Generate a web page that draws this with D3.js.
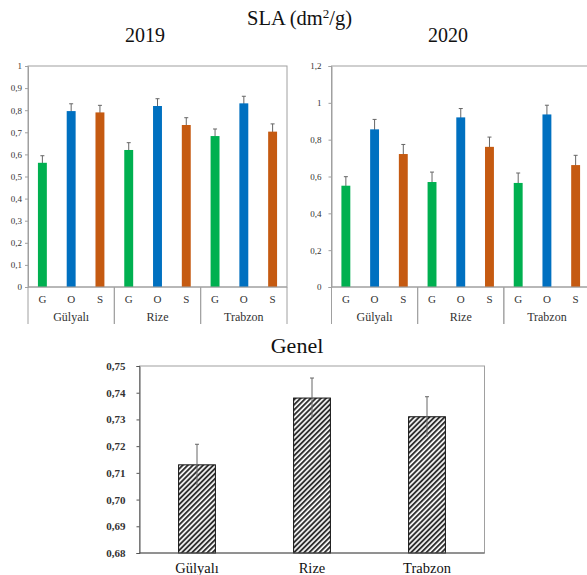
<!DOCTYPE html>
<html>
<head>
<meta charset="utf-8">
<script src="https://cdn.jsdelivr.net/npm/d3@7"></script>
<style>
  html, body { margin: 0; padding: 0; background: #fff; }
  svg { display: block; }
  svg text { font-family: "Liberation Serif", "Times New Roman", serif !important; }
</style>
</head>
<body>
<svg id="chart" width="587" height="575" font-family="Liberation Serif, serif"></svg>
<script>
// Sites and sample groups
const sites = ["Gülyalı", "Rize", "Trabzon"];
const groups = ["G", "O", "S"];
const groupColors = ["#00B050", "#0070C0", "#C55A11"];

// SLA 2019 (dm²/g), one value per site
const sla2019G = [0.562, 0.620, 0.683];
const sla2019O = [0.796, 0.819, 0.831];
const sla2019S = [0.790, 0.733, 0.703];
const err2019G = [0.032, 0.033, 0.032];
const err2019O = [0.033, 0.033, 0.032];
const err2019S = [0.032, 0.033, 0.035];

// SLA 2020 (dm²/g)
const sla2020G = [0.550, 0.570, 0.565];
const sla2020O = [0.856, 0.921, 0.937];
const sla2020S = [0.722, 0.761, 0.662];
const err2020G = [0.049, 0.054, 0.054];
const err2020O = [0.054, 0.048, 0.050];
const err2020S = [0.052, 0.053, 0.053];

// Overall mean per site
const genel = [0.713, 0.738, 0.731];
const genelErr = [0.0077, 0.0075, 0.0075];

// Tick values
const ticks2019 = [0, 0.1, 0.2, 0.3, 0.4, 0.5, 0.6, 0.7, 0.8, 0.9, 1];
const ticks2020 = [0, 0.2, 0.4, 0.6, 0.8, 1, 1.2];
const ticksGenel = [0.68, 0.69, 0.70, 0.71, 0.72, 0.73, 0.74, 0.75];

const trLocale = d3.formatLocale({ decimal: ",", thousands: ".", grouping: [3], currency: ["", ""] });
const fmtShort = trLocale.format("~g");
const fmt2 = trLocale.format(".2f");

const svg = d3.select("#chart");
const frameColor = "#a0a0a0";
const serif = "'Liberation Serif', 'Times New Roman', serif";

function buildRows(vals, errs) {
  const rows = [];
  sites.forEach((s, i) => {
    groups.forEach((g, j) => {
      rows.push({ site: s, group: g, gi: j, value: vals[j][i], err: errs[j][i] });
    });
  });
  return rows;
}

function groupedChart(opt) {
  const { left, right, top, bottom, catBottom, yMax, ticks, rows, labelGap } = opt;
  const g = svg.append("g");
  const y = d3.scaleLinear().domain([0, yMax]).range([bottom, top]);
  const x0 = d3.scaleBand().domain(sites).range([left, right]).padding(0);
  const x1 = d3.scaleBand().domain(groups).range([0, x0.bandwidth()])
    .paddingInner(0.69).paddingOuter(0.345);

  // frame
  g.append("rect")
    .attr("x", left).attr("y", top)
    .attr("width", right - left).attr("height", bottom - top)
    .attr("fill", "none").attr("stroke", frameColor).attr("stroke-width", 1);

  // y axis
  const yAxis = d3.axisLeft(y).tickValues(ticks).tickFormat(fmtShort)
    .tickSize(3).tickPadding(labelGap);
  const ya = g.append("g").attr("transform", `translate(${left},0)`).call(yAxis)
    .attr("font-family", serif);
  ya.select(".domain").attr("stroke", frameColor);
  ya.selectAll(".tick line").attr("stroke", frameColor);
  ya.selectAll(".tick text")
    .attr("fill", "#333")
    .style("font-size", "9px");

  // error bars (drawn behind bars)
  const eb = g.append("g");
  rows.forEach(d => {
    const cx = x0(d.site) + x1(d.group) + x1.bandwidth() / 2;
    eb.append("line")
      .attr("x1", cx).attr("x2", cx)
      .attr("y1", y(d.value - d.err)).attr("y2", y(d.value + d.err))
      .attr("stroke", "#666").attr("stroke-width", 1);
    eb.append("line")
      .attr("x1", cx - 2).attr("x2", cx + 2)
      .attr("y1", y(d.value + d.err)).attr("y2", y(d.value + d.err))
      .attr("stroke", "#666").attr("stroke-width", 1);
  });

  // bars
  g.append("g").selectAll("rect").data(rows).join("rect")
    .attr("x", d => x0(d.site) + x1(d.group))
    .attr("y", d => y(d.value))
    .attr("width", x1.bandwidth())
    .attr("height", d => bottom - y(d.value))
    .attr("fill", d => groupColors[d.gi]);

  // baseline redrawn over bars
  g.append("line")
    .attr("x1", left).attr("x2", right)
    .attr("y1", bottom).attr("y2", bottom)
    .attr("stroke", frameColor);

  // category separators (two-level axis)
  sites.forEach(s => {
    [x0(s), x0(s) + x0.bandwidth()].forEach(xx => {
      g.append("line")
        .attr("x1", xx).attr("x2", xx)
        .attr("y1", bottom).attr("y2", catBottom)
        .attr("stroke", frameColor);
    });
    groups.forEach(gr => {
      g.append("text")
        .attr("x", x0(s) + x1(gr) + x1.bandwidth() / 2)
        .attr("y", bottom + 15.5)
        .attr("text-anchor", "middle")
        .attr("fill", "#333")
        .style("font-size", "11px")
        .text(gr);
    });
    g.append("text")
      .attr("x", x0(s) + x0.bandwidth() / 2)
      .attr("y", bottom + 33.5)
      .attr("text-anchor", "middle")
      .attr("fill", "#333")
      .style("font-size", "12px")
      .text(s);
  });
}

// Titles
svg.append("text")
  .attr("x", 299.5).attr("y", 25)
  .attr("text-anchor", "middle")
  .style("font-size", "20.5px")
  .attr("fill", "#111")
  .html('SLA (dm<tspan dy="-7" font-size="13px">2</tspan><tspan dy="7">/g)</tspan>');

svg.append("text")
  .attr("x", 145).attr("y", 42)
  .attr("text-anchor", "middle")
  .style("font-size", "20px")
  .attr("fill", "#111")
  .text("2019");

svg.append("text")
  .attr("x", 448).attr("y", 42)
  .attr("text-anchor", "middle")
  .style("font-size", "20px")
  .attr("fill", "#111")
  .text("2020");

groupedChart({
  left: 28, right: 287, top: 66, bottom: 287, catBottom: 324,
  yMax: 1, ticks: ticks2019, labelGap: 3,
  rows: buildRows([sla2019G, sla2019O, sla2019S], [err2019G, err2019O, err2019S])
});

groupedChart({
  left: 331.5, right: 590, top: 66, bottom: 287, catBottom: 324,
  yMax: 1.2, ticks: ticks2020, labelGap: 7,
  rows: buildRows([sla2020G, sla2020O, sla2020S], [err2020G, err2020O, err2020S])
});

// Overall chart with hatched bars
const defs = svg.append("defs");
const pat = defs.append("pattern")
  .attr("id", "hatch")
  .attr("patternUnits", "userSpaceOnUse")
  .attr("width", 3.6).attr("height", 3.6)
  .attr("patternTransform", "rotate(45)");
pat.append("rect").attr("width", 3.6).attr("height", 3.6).attr("fill", "#fff");
pat.append("line")
  .attr("x1", 1).attr("x2", 1).attr("y1", 0).attr("y2", 3.6)
  .attr("stroke", "#2a2a2a").attr("stroke-width", 1.9);

(function () {
  const left = 139.5, right = 484.5, top = 366, bottom = 553;
  const g = svg.append("g");
  const y = d3.scaleLinear().domain([0.68, 0.75]).range([bottom, top]);
  const x = d3.scaleBand().domain(sites).range([left, right]).paddingInner(0.68).paddingOuter(0.34);

  g.append("rect")
    .attr("x", left).attr("y", top)
    .attr("width", right - left).attr("height", bottom - top)
    .attr("fill", "none").attr("stroke", frameColor);

  const ya = g.append("g").attr("transform", `translate(${left},0)`)
    .call(d3.axisLeft(y).tickValues(ticksGenel).tickFormat(fmt2).tickSize(3).tickPadding(11))
    .attr("font-family", serif);
  ya.select(".domain").attr("stroke", "#555");
  ya.selectAll(".tick line").attr("stroke", "#555");
  ya.selectAll(".tick text")
    .attr("fill", "#333")
    .style("font-size", "11px")
    .style("font-weight", "bold");

  const rows = sites.map((s, i) => ({ site: s, value: genel[i], err: genelErr[i] }));

  g.append("g").selectAll("rect").data(rows).join("rect")
    .attr("x", d => x(d.site))
    .attr("y", d => y(d.value))
    .attr("width", x.bandwidth())
    .attr("height", d => bottom - y(d.value))
    .attr("fill", "url(#hatch)")
    .attr("stroke", "#111").attr("stroke-width", 1);

  rows.forEach(d => {
    const cx = x(d.site) + x.bandwidth() / 2;
    g.append("line")
      .attr("x1", cx).attr("x2", cx)
      .attr("y1", y(d.value - d.err)).attr("y2", y(d.value + d.err))
      .attr("stroke", "#666").attr("stroke-width", 1);
    g.append("line")
      .attr("x1", cx - 2).attr("x2", cx + 2)
      .attr("y1", y(d.value + d.err)).attr("y2", y(d.value + d.err))
      .attr("stroke", "#666").attr("stroke-width", 1);
  });

  g.append("line")
    .attr("x1", left).attr("x2", right)
    .attr("y1", bottom).attr("y2", bottom)
    .attr("stroke", "#555");

  g.selectAll(".xlab").data(sites).join("text")
    .attr("class", "xlab")
    .attr("x", d => x(d) + x.bandwidth() / 2)
    .attr("y", 573)
    .attr("text-anchor", "middle")
    .attr("fill", "#111")
    .style("font-size", "14.5px")
    .text(d => d);

  svg.append("text")
    .attr("x", 297).attr("y", 352.5)
    .attr("text-anchor", "middle")
    .attr("fill", "#111")
    .style("font-size", "22px")
    .text("Genel");
})();
</script>
</body>
</html>
